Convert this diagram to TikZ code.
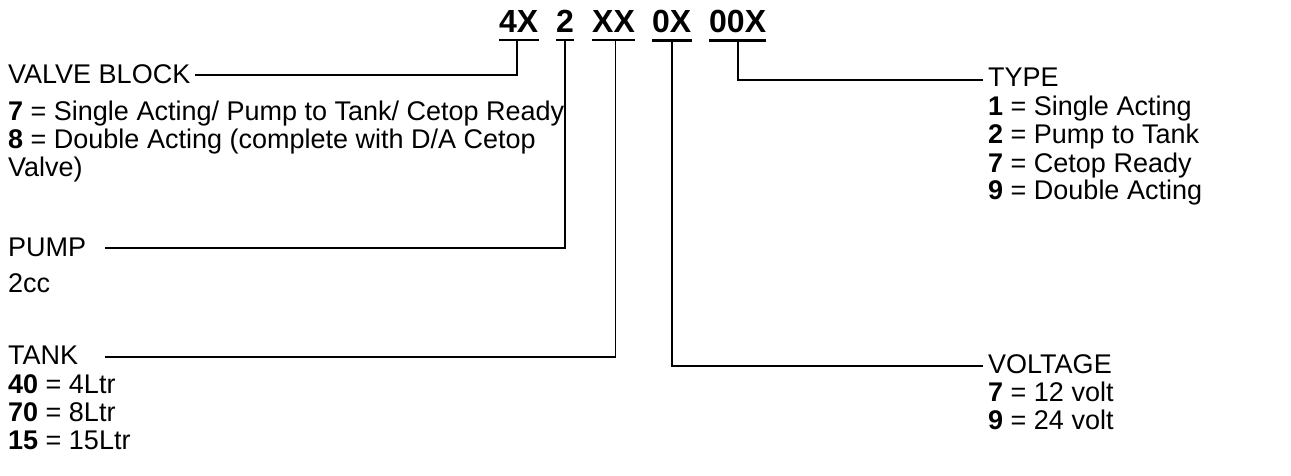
\documentclass[tikz,border=0pt]{standalone}
\usepackage{fontspec}
\setmainfont{Liberation Sans}
\usetikzlibrary{calc}

\begin{document}
\begin{tikzpicture}[
  x=1pt,y=-1pt,
  every node/.style={inner sep=0pt,anchor=base west},
  txt/.style={font=\fontsize{27}{28}\selectfont},
  codetxt/.style={font=\fontsize{32}{34}\selectfont\bfseries},
  lead/.style={draw=black,line width=1.7pt},
  uline/.style={draw=black,line width=2.6pt}
]
  \useasboundingbox (0,0) rectangle (1291,476);
  % order code
  \node[codetxt] (cvb) at (499,33) {4X};
  \node[codetxt] (cpu) at (556,33) {2};
  \node[codetxt] (cta) at (592,33) {XX};
  \node[codetxt] (cvo) at (652,33) {0X};
  \node[codetxt] (cty) at (709,33) {00X};
  \foreach \c in {cvb,cpu,cta,cvo,cty}
    \draw[uline] ([yshift=-7pt]\c.south west) -- ([yshift=-7pt]\c.south east);
  % left column
  \node[txt] (valve) at (8,84) {VALVE BLOCK};
  \node[txt] (valve7) at (8,121) {\textbf{7} = Single Acting/ Pump to Tank/ Cetop Ready};
  \node[txt] (valve8) at (8,149) {\textbf{8} = Double Acting (complete with D/A Cetop};
  \node[txt] (valve8b) at (8,177) {Valve)};
  \node[txt] (pump) at (8,256) {PUMP};
  \node[txt] (pumpcc) at (8,292) {2cc};
  \node[txt] (tank) at (8,364) {TANK};
  \node[txt] (tank40) at (8,393) {\textbf{40} = 4Ltr};
  \node[txt] (tank70) at (8,421) {\textbf{70} = 8Ltr};
  \node[txt] (tank15) at (8,449) {\textbf{15} = 15Ltr};
  \coordinate (pumpln) at (105,248);
  \coordinate (tankln) at (105,357);
  % right column
  \node[txt] (type) at (988,87) {TYPE};
  \node[txt] (type1) at (988,116) {\textbf{1} = Single Acting};
  \node[txt] (type2) at (988,144) {\textbf{2} = Pump to Tank};
  \node[txt] (type7) at (988,172) {\textbf{7} = Cetop Ready};
  \node[txt] (type9) at (988,200) {\textbf{9} = Double Acting};
  \node[txt] (volt) at (988,373) {VOLTAGE};
  \node[txt] (volt7) at (988,401) {\textbf{7} = 12 volt};
  \node[txt] (volt9) at (988,429) {\textbf{9} = 24 volt};
  % leaders
  \draw[lead] ([xshift=-2pt,yshift=-7pt]cvb.south) |- ([xshift=5pt]valve.east);
  \draw[lead] ([yshift=-7pt]cpu.south) |- (pumpln);
  \draw[lead] ([xshift=2pt,yshift=-7pt]cta.south) |- (tankln);
  \draw[lead] ([yshift=-7pt]cvo.south) |- ([xshift=-5pt,yshift=-2pt]volt.west);
  \draw[lead] ([yshift=-7pt]cty.south) |- ([xshift=-5pt,yshift=-2pt]type.west);
\end{tikzpicture}
\end{document}
